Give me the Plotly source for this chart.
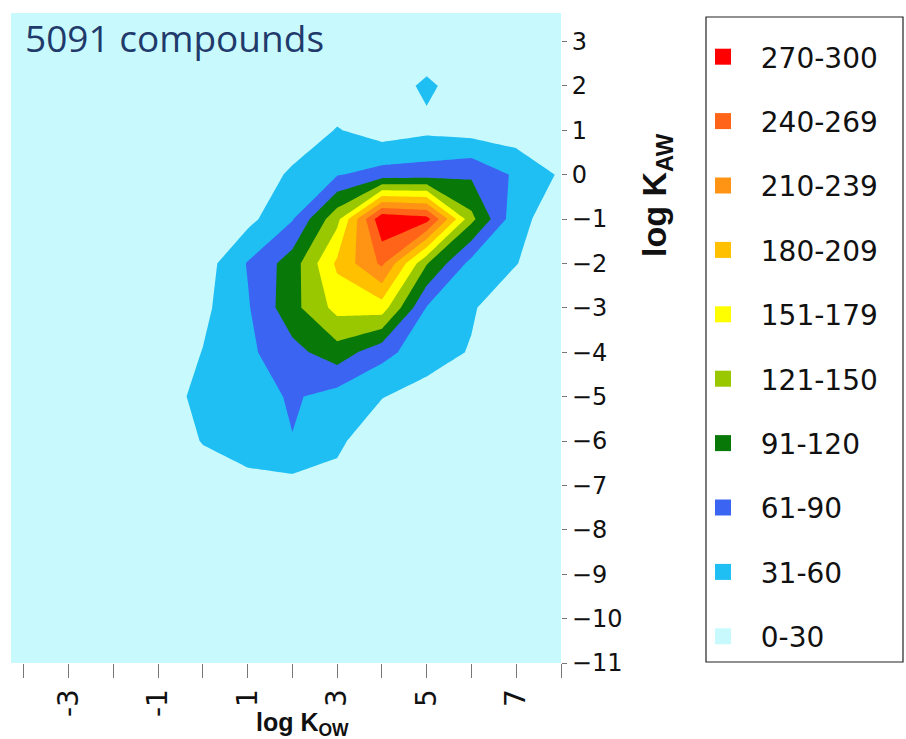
import plotly.graph_objects as go

# ---- data: compound counts per 1x1 bin (log Kow columns, log Kaw rows) ----
log_kow = [-4, -3, -2, -1, 0, 1, 2, 3, 4, 5, 6, 7, 8]
log_kaw = [-11, -10, -9, -8, -7, -6, -5, -4, -3, -2, -1, 0, 1, 2, 3]

row_m11 = [0, 0, 0, 0, 0, 0, 0, 0, 0, 0, 0, 0, 0]
row_m10 = [0, 0, 0, 0, 0, 1, 1, 1, 0, 0, 0, 0, 0]
row_m9 = [0, 0, 0, 0, 1, 2, 3, 2, 1, 0, 0, 0, 0]
row_m8 = [0, 0, 0, 1, 4, 6, 7, 6, 3, 1, 0, 0, 0]
row_m7 = [0, 0, 1, 3, 10, 20, 20, 22, 8, 3, 1, 0, 0]
row_m6 = [0, 0, 1, 5, 32, 45, 59, 35, 12, 6, 3, 1, 0]
row_m5 = [0, 1, 2, 4, 45, 45, 64, 48, 31, 20, 10, 4, 1]
row_m4 = [0, 1, 3, 8, 31, 54, 80, 107, 70, 42, 28, 8, 2]
row_m3 = [0, 1, 2, 5, 23, 57, 110, 160, 165, 58, 33, 10, 4]
row_m2 = [0, 1, 2, 4, 15, 62, 105, 186, 246, 122, 50, 31, 8]
row_m1 = [0, 0, 1, 2, 5, 21, 58, 141, 295, 282, 128, 40, 12]
row_0 = [0, 0, 1, 2, 3, 6, 36, 58, 72, 75, 85, 55, 26]
row_1 = [0, 0, 0, 1, 2, 4, 8, 32, 15, 24, 18, 13, 5]
row_2 = [0, 0, 0, 0, 1, 2, 4, 8, 15, 35, 15, 5, 1]
row_3 = [0, 0, 0, 0, 0, 1, 2, 4, 8, 12, 6, 2, 0]

counts = [row_m11, row_m10, row_m9, row_m8, row_m7, row_m6, row_m5, row_m4,
          row_m3, row_m2, row_m1, row_0, row_1, row_2, row_3]

band_labels = ["0-30", "31-60", "61-90", "91-120", "121-150", "151-179",
               "180-209", "210-239", "240-269", "270-300"]
band_colors = ["#C8FAFD", "#1FBFF3", "#3C64F2", "#087808", "#99C800",
               "#FFFF00", "#FFC000", "#FF9414", "#FF6418", "#FF0000"]

x_ticks = [-3, -1, 1, 3, 5, 7]
x_minor = [-4, -2, 0, 2, 4, 6, 8]
y_ticks = list(range(-11, 4))

# ---- figure ----
colorscale = [[i / 9, c] for i, c in enumerate(band_colors)]

fig = go.Figure()
fig.add_trace(go.Contour(
    x=log_kow, y=log_kaw, z=counts,
    contours=dict(start=30, end=270, size=30, coloring="fill", showlines=False),
    line=dict(width=0, smoothing=0),
    colorscale=colorscale, showscale=False, showlegend=False,
    hoverinfo="skip",
))

for lab, col in reversed(list(zip(band_labels, band_colors))):
    fig.add_trace(go.Scatter(
        x=[None], y=[None], mode="markers",
        marker=dict(symbol="square", size=16, color=col),
        name="\u00a0\u00a0" + lab, legendgroup=lab, showlegend=True,
    ))

L, T, PW, PH = 11, 13, 550, 650

def px_x(p):
    return (p - L) / PW

def px_y(p):
    return (T + PH - p) / PH

fig.update_layout(
    width=906, height=739,
    margin=dict(l=L, r=906 - L - PW, t=T, b=739 - T - PH),
    paper_bgcolor="white",
    plot_bgcolor=band_colors[0],
    showlegend=True,
    legend=dict(
        x=px_x(703), y=px_y(32), xanchor="left", yanchor="top",
        font=dict(family="DejaVu Sans", size=28, color="#111111"),
        traceorder="grouped", tracegroupgap=25,
        borderwidth=0, bgcolor="rgba(0,0,0,0)",
    ),
    xaxis=dict(
        range=[-4.29, 8.0], tickvals=x_ticks, ticktext=[str(v) for v in x_ticks],
        ticks="outside", ticklen=14, tickcolor="#777", tickwidth=1,
        tickangle=-90, tickfont=dict(family="DejaVu Sans", size=28, color="#111"),
        minor=dict(tickvals=x_minor, ticks="outside", ticklen=14, tickcolor="#777", tickwidth=1),
        showgrid=False, zeroline=False, showline=False,
    ),
    yaxis=dict(
        range=[-11, 3.64], tickvals=y_ticks, side="right",
        ticks="outside", ticklen=5, tickcolor="#777", tickwidth=1,
        tickfont=dict(family="DejaVu Sans", size=24, color="#111"),
        showgrid=False, zeroline=False, showline=False,
    ),
    shapes=[dict(
        type="rect", xref="paper", yref="paper",
        x0=px_x(706), x1=px_x(903), y0=px_y(662), y1=px_y(17),
        line=dict(color="#222", width=1.2), fillcolor="rgba(0,0,0,0)",
    )],
    annotations=[
        dict(text="5091 compounds", xref="paper", yref="paper",
             x=px_x(23), y=px_y(37), xanchor="left", yanchor="middle",
             showarrow=False, font=dict(family="Open Sans", size=37, color="#1F3A6B")),
        dict(text="<b>log K<sub>AW</sub></b>", xref="paper", yref="paper",
             x=px_x(656), y=px_y(195), xanchor="center", yanchor="middle",
             textangle=-90, showarrow=False,
             font=dict(family="Liberation Sans", size=34, color="#111")),
        dict(text="<b>log K<sub>OW</sub></b>", xref="paper", yref="paper",
             x=px_x(302), y=px_y(724), xanchor="center", yanchor="middle",
             showarrow=False,
             font=dict(family="Liberation Sans", size=25, color="#111")),
    ],
)

fig.write_html("out.html")
